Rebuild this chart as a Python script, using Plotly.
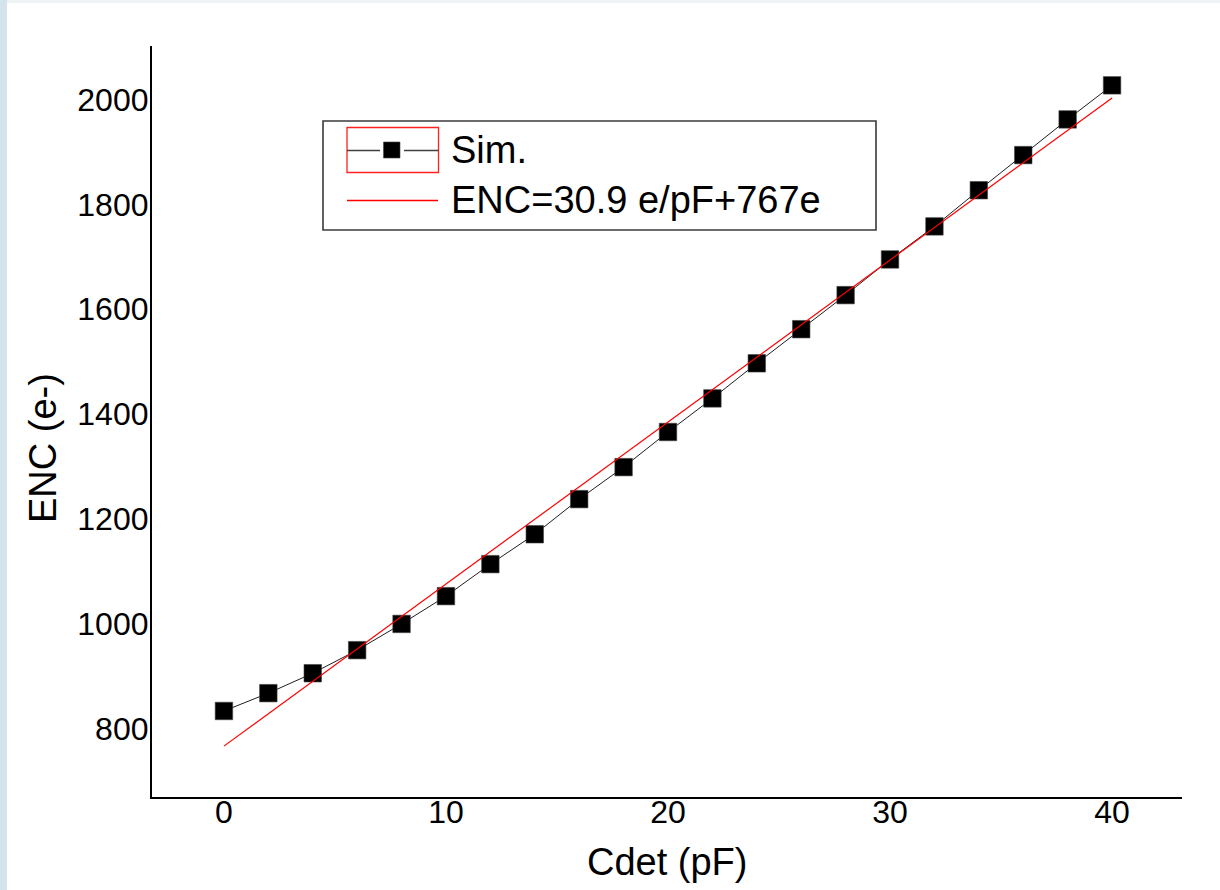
import plotly.graph_objects as go

# Simulated equivalent noise charge versus detector capacitance
cdet_pf = [0, 2, 4, 6, 8, 10, 12, 14, 16, 18, 20, 22, 24, 26, 28, 30, 32, 34, 36, 38, 40]
enc_sim = [834, 868, 906, 950, 1000, 1053, 1114, 1171, 1238, 1299, 1366,
           1430, 1497, 1562, 1627, 1695, 1758, 1827, 1894, 1962, 2027]

# Linear fit stated in the legend: ENC = 30.9 e/pF * Cdet + 767 e
fit_slope = 30.9
fit_intercept = 767
fit_x = [0, 40]
fit_y = [fit_slope * c + fit_intercept for c in fit_x]

x_ticks = [0, 10, 20, 30, 40]
y_ticks = [800, 1000, 1200, 1400, 1600, 1800, 2000]

sim_label = "Sim."
fit_label = "ENC=30.9 e/pF+767e"
x_title = "Cdet (pF)"
y_title = "ENC (e-)"

# Page / plot-area geometry (pixels)
W, H = 1220, 890
ML, MR, MT, MB = 152, 38, 46, 93
PW, PH = W - ML - MR, H - MT - MB

FONT = "Liberation Sans, Arial, Helvetica, sans-serif"


def px(xp):
    """Horizontal page pixel -> paper coordinate."""
    return (xp - ML) / PW


def py(yp):
    """Vertical page pixel (from top) -> paper coordinate."""
    return (H - MB - yp) / PH


fig = go.Figure()

fig.add_trace(go.Scatter(
    x=cdet_pf, y=enc_sim, mode="lines+markers", name=sim_label,
    line=dict(color="#202020", width=1),
    marker=dict(symbol="square", size=17.5, color="black",
                line=dict(color="#444444", width=0.6)),
    showlegend=False,
))

fig.add_trace(go.Scatter(
    x=fit_x, y=fit_y, mode="lines", name=fit_label,
    line=dict(color="#ff0000", width=1.2),
    showlegend=False,
))

shapes = []
# slide background edges
shapes.append(dict(type="rect", xref="paper", yref="paper", layer="below",
                   x0=px(0), x1=px(7), y0=py(H), y1=py(0),
                   fillcolor="#d3e4ec", line=dict(width=0)))
shapes.append(dict(type="rect", xref="paper", yref="paper", layer="below",
                   x0=px(7), x1=px(W), y0=py(3), y1=py(0),
                   fillcolor="#eef3f6", line=dict(width=0)))

# legend frame
shapes.append(dict(type="rect", xref="paper", yref="paper",
                   x0=px(323), x1=px(876), y0=py(230), y1=py(121),
                   fillcolor="white", line=dict(color="#3a3a3a", width=1.6)))
# selection frame around the first legend symbol
shapes.append(dict(type="rect", xref="paper", yref="paper",
                   x0=px(347), x1=px(438.5), y0=py(172.5), y1=py(127.5),
                   line=dict(color="#ff2020", width=1.3)))
# legend symbol: simulated series (line with square marker)
shapes.append(dict(type="line", xref="paper", yref="paper",
                   x0=px(347), x1=px(380), y0=py(150.5), y1=py(150.5),
                   line=dict(color="#404040", width=1.3)))
shapes.append(dict(type="line", xref="paper", yref="paper",
                   x0=px(404), x1=px(438.5), y0=py(150.5), y1=py(150.5),
                   line=dict(color="#404040", width=1.3)))
shapes.append(dict(type="rect", xref="paper", yref="paper",
                   x0=px(383.5), x1=px(400), y0=py(158), y1=py(142),
                   fillcolor="black", line=dict(color="#444444", width=0.6)))
# legend symbol: fit line
shapes.append(dict(type="line", xref="paper", yref="paper",
                   x0=px(347), x1=px(438), y0=py(200.5), y1=py(200.5),
                   line=dict(color="#ff0000", width=1.3)))

annotations = [
    dict(text=sim_label, xref="paper", yref="paper", x=px(449), y=py(150),
         xanchor="left", yanchor="middle", showarrow=False,
         font=dict(family=FONT, size=38, color="black")),
    dict(text=fit_label, xref="paper", yref="paper", x=px(449), y=py(200),
         xanchor="left", yanchor="middle", showarrow=False,
         font=dict(family=FONT, size=38, color="black")),
    dict(text=x_title, xref="paper", yref="paper", x=px(667), y=py(862),
         xanchor="center", yanchor="middle", showarrow=False,
         font=dict(family=FONT, size=38, color="black")),
    dict(text=y_title, xref="paper", yref="paper", x=px(43), y=py(448),
         xanchor="center", yanchor="middle", showarrow=False, textangle=-90,
         font=dict(family=FONT, size=38, color="black")),
]

fig.update_layout(
    width=W, height=H,
    margin=dict(l=ML, r=MR, t=MT, b=MB, pad=0),
    paper_bgcolor="white", plot_bgcolor="white",
    font=dict(family=FONT, color="black"),
    shapes=shapes, annotations=annotations,
    showlegend=False,
)

fig.update_xaxes(
    range=[-3.24, 43.15], tickmode="array", tickvals=x_ticks,
    ticks="", showgrid=False, zeroline=False,
    showline=True, linecolor="black", linewidth=2.2,
    tickfont=dict(family=FONT, size=32, color="black"),
    ticklabelstandoff=-15,
)
fig.update_yaxes(
    range=[670, 2102], tickmode="array", tickvals=y_ticks,
    ticks="", showgrid=False, zeroline=False,
    showline=True, linecolor="black", linewidth=2.2,
    tickfont=dict(family=FONT, size=32, color="black"),
    ticklabelstandoff=-5,
)

fig.write_html("out.html", config={"displayModeBar": False})
